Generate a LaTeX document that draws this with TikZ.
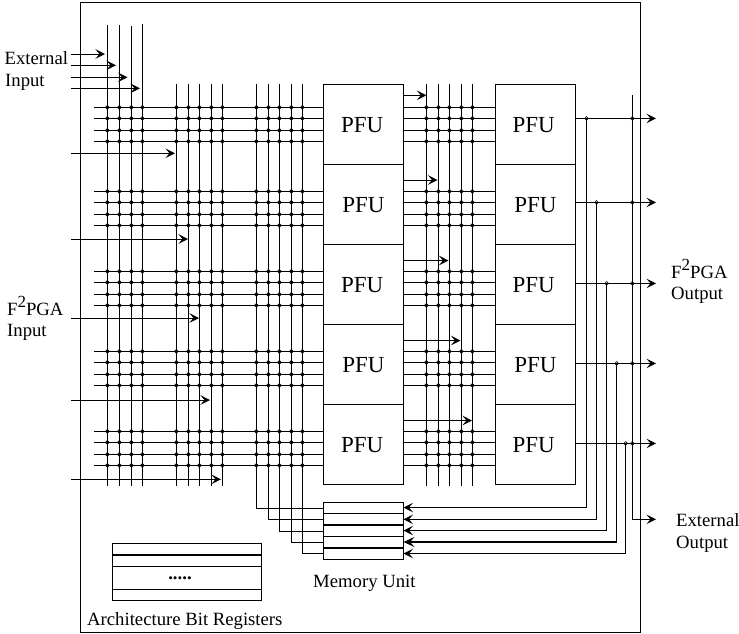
\documentclass[tikz,border=0pt]{standalone}
\usepackage{fontspec}
\setmainfont{Liberation Serif}
\usetikzlibrary{arrows.meta,calc}
\newcommand{\lbl}{\fontsize{18.7}{20}\selectfont}
\newcommand{\pfl}{\fontsize{23}{24}\selectfont}
\newcommand{\ffpga}{F\raisebox{7.5pt}{\fontsize{17}{18}\selectfont 2}PGA}
\newcommand{\pfutext}[1]{\hspace*{#1pt}\raisebox{-8.6pt}[0pt][0pt]{PFU}}
\tikzset{
  x=1pt,y=-1pt,
  wire/.style={line width=0.9pt,draw=black},
  thickwire/.style={line width=1.9pt,draw=black},
  arr/.style={wire,-{Stealth[length=9.5pt,width=9.5pt,inset=4pt]}},
  thickarr/.style={thickwire,-{Stealth[length=11pt,width=10pt,inset=4.5pt]}},
  pfu/.style={draw=black,line width=0.9pt,minimum width=80pt,minimum height=80pt,inner sep=0pt,outer sep=0pt,font=\pfl},
  jn/.style={circle,draw=black,line width=0.6pt,minimum size=3.8pt,inner sep=0pt},
  txt/.style={anchor=base west,inner sep=0pt,font=\lbl},
}
\begin{document}
\begin{tikzpicture}
\useasboundingbox (0,0) rectangle (739,633);
\draw[wire] (80.5,2.3) rectangle (640.3,632);
% PFU blocks
\foreach \i/\y/\sl/\sr in {1/124.3/-2.5/-3.5,2/204.3/0/0,3/284.3/-2.5/-3.5,4/364.3/0/0,5/444.3/-2.5/-3.5}{
  \node[pfu] (L\i) at (363.5,\y) {\pfutext{\sl}};
  \node[pfu] (R\i) at (535.5,\y) {\pfutext{\sr}};
}
% vertical routing tracks
\foreach \x/\t in {107.4/25,119.4/25,131.4/26,142.4/24,176.4/84,188.4/84,199.4/84,211.4/84,222.4/84,426.4/84,438.4/84,449.4/84,461.4/84,472.4/84}{
  \draw[wire] (\x,\t) -- (\x,486);
}
% horizontal tracks and switch points
\foreach \r in {0,84,164,244,324}{
  \foreach \d in {107.4,118.4,130.4,141.4}{
    \pgfmathsetmacro{\yy}{\r+\d}
    \draw[wire] (94,\yy) -- (323.5,\yy);
    \draw[wire] (403.5,\yy) -- (495.5,\yy);
    \foreach \x in {107.4,119.4,131.4,142.4,176.4,188.4,199.4,211.4,222.4,256.4,268.4,279.4,291.4,302.4,426.4,438.4,449.4,461.4,472.4}{
      \node[jn] at (\x,\yy) {};
    }
  }
}
% memory unit
\node[draw=black,line width=0.9pt,minimum width=80pt,minimum height=57pt,inner sep=0pt,outer sep=0pt] (mem) at (363.5,530.8) {};
\draw[wire] (mem.west |- 0,513.3) -- (mem.east |- 0,513.3);
\draw[thickwire] (mem.west |- 0,525) -- (mem.east |- 0,525);
\draw[wire] (mem.west |- 0,536.3) -- (mem.east |- 0,536.3);
\draw[thickwire] (mem.west |- 0,547.7) -- (mem.east |- 0,547.7);
% tracks into memory
\foreach \x/\y in {256.4/508,268.4/519.5,279.4/531.5,291.4/542.7,302.4/553.7}{
  \draw[wire] (\x,84) -- (\x,\y) -- (mem.west |- 0,\y);
}
% external inputs
\foreach \y/\x in {54/105,65.3/116,77.3/127.5,88.3/140,153.3/175,239/188,318/199,400/210,479.3/221}{
  \coordinate (s) at (71,\y);
  \coordinate (e) at (\x,\y);
  \draw[arr] (s) -- (e);
}
% PFU to track arrows
\draw[arr] (L1.east |- 0,95.3) -- (426.4,95.3);
\draw[arr] (L2.east |- 0,180) -- (437.5,180);
\draw[arr] (L3.east |- 0,260.5) -- (448.5,260.5);
\draw[arr] (L4.east |- 0,340.5) -- (460.5,340.5);
\draw[arr] (L5.east |- 0,420.5) -- (472,420.5);
% outputs
\draw[arr] (R1.east |- 0,118.4) -- (656,118.4);
\draw[arr] (R2.east |- 0,202.4) -- (656,202.4);
\draw[arr] (R3.east |- 0,283.4) -- (656,283.4);
\draw[arr] (R4.east |- 0,363.4) -- (656,363.4);
\draw[arr] (R5.east |- 0,443.4) -- (656,443.4);
% feedback to memory
\draw[arr] (586.5,118.4) -- (586.5,507.5) -- (mem.east |- 0,507.5);
\draw[arr] (596.5,202.4) -- (596.5,519.3) -- (mem.east |- 0,519.3);
\draw[arr] (606.7,283.4) -- (606.7,530.5) -- (mem.east |- 0,530.5);
\draw[wire] (616.7,363.4) -- (616.7,542);
\draw[thickarr] (616.7,542) -- (mem.east |- 0,542);
\draw[arr] (625.7,443.4) -- (625.7,553.5) -- (mem.east |- 0,553.5);
% external output
\draw[arr] (632.3,95) -- (632.3,519.3) -- (656,519.3);
\foreach \x/\y in {586.5/118.4,632.3/118.4,596.5/202.4,632.3/202.4,606.7/283.4,632.3/283.4,616.7/363.4,632.3/363.4,625.7/443.4,632.3/443.4}{
  \node[jn] at (\x,\y) {};
}
% architecture registers
\node[draw=black,line width=0.9pt,minimum width=149.4pt,minimum height=57pt,inner sep=0pt,outer sep=0pt] (abr) at (187,571.8) {};
\draw[thickwire] (abr.west |- 0,555) -- (abr.east |- 0,555);
\draw[wire] (abr.west |- 0,566.3) -- (abr.east |- 0,566.3);
\draw[wire] (abr.west |- 0,589.3) -- (abr.east |- 0,589.3);
\node[inner sep=0pt,font=\lbl\bfseries] (dots) at (180,578.5) {.....};
% labels
\node[txt] (t1) at (4.5,64) {External};
\node[txt] (t2) at (5,86.7) {Input};
\node[txt] (t3) at (7,315) {\ffpga};
\node[txt] (t4) at (7,336.7) {Input};
\node[txt] (t5) at (671,278.3) {\ffpga};
\node[txt] (t6) at (671,299.5) {Output};
\node[txt] (t7) at (676,526.7) {External};
\node[txt] (t8) at (676,548.3) {Output};
\node[txt] (t9) at (313,587) {Memory Unit};
\node[txt] (t10) at (87,625) {Architecture Bit Registers};
\end{tikzpicture}
\end{document}
